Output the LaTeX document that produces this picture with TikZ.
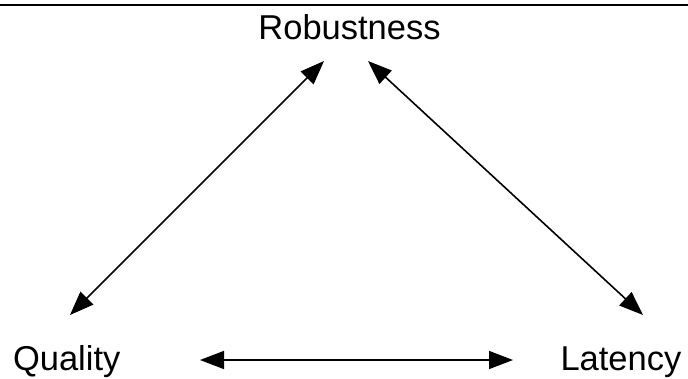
\documentclass[tikz,border=0pt]{standalone}
\usepackage{fontspec}
\setmainfont{Liberation Sans}
\usetikzlibrary{arrows.meta}
\begin{document}
\begin{tikzpicture}[x=1pt,y=-1pt,
  label/.style={font=\fontsize{34.5}{40}\selectfont, inner sep=0pt, outer sep=0pt},
  link/.style={line width=1.6pt,
    {Triangle[length=24pt,width=18pt]}-{Triangle[length=24pt,width=18pt]}}]
  \useasboundingbox (0,0) rectangle (688,378);
  % rule across the top
  \draw[line width=2.5pt] (0,5) -- (688,5);
  % the three properties
  \node[label, anchor=base] (rob) at (349.5,39.3) {Robustness};
  \node[label, anchor=base west] (qual) at (13,370) {Quality};
  \node[label, anchor=base west] (lat) at (560.5,370) {Latency};
  % arrow end points near each label
  \coordinate (robL) at (324,61);
  \coordinate (robR) at (368,61);
  \coordinate (qualT) at (70,315);
  \coordinate (qualR) at (200,360);
  \coordinate (latT) at (643,315);
  \coordinate (latL) at (513,360);
  % trade-offs
  \draw[link] (qualT) -- (robL);
  \draw[link] (robR) -- (latT);
  \draw[link] (qualR) -- (latL);
\end{tikzpicture}
\end{document}
